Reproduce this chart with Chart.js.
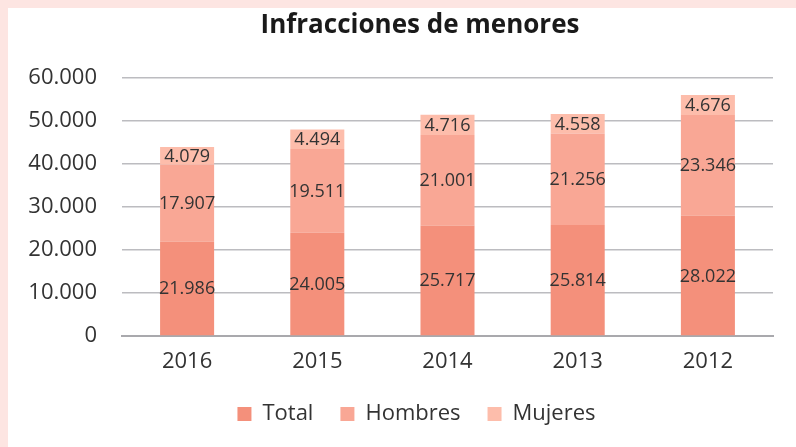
<!DOCTYPE html>
<html>
<head>
<meta charset="utf-8">
<script src="https://cdn.jsdelivr.net/npm/chart.js@4"></script>
<style>
  html, body { margin: 0; padding: 0; }
  body { width: 796px; height: 447px; background: #fde5e2; position: relative; overflow: hidden; }
  #wrap { position: absolute; left: 8px; top: 8px; width: 788px; height: 439px; background: #ffffff; }
</style>
</head>
<body>
<div id="wrap"><canvas id="chart"></canvas></div>
<script>
const years = ['2016', '2015', '2014', '2013', '2012'];
const total = [21986, 24005, 25717, 25814, 28022];
const hombres = [17907, 19511, 21001, 21256, 23346];
const mujeres = [4079, 4494, 4716, 4558, 4676];

const chartTitle = 'Infracciones de menores';
const FONT = '"Open Sans", "Noto Sans", sans-serif';

function fmt(v) {
    return String(v).replace(/\B(?=(\d{3})+(?!\d))/g, '.');
}

// draws the title and the numbers inside each segment
const labelPlugin = {
    id: 'segLabels',
    afterLayout(chart) {
        // the original legend sits a bit right of the canvas centre
        chart.legend.left += 26;
        chart.legend.right += 26;
    },
    afterDatasetsDraw(chart) {
        const ctx = chart.ctx;
        ctx.save();
        ctx.font = '18px ' + FONT;
        ctx.fillStyle = '#333333';
        ctx.textAlign = 'center';
        ctx.textBaseline = 'middle';
        chart.data.datasets.forEach((ds, i) => {
            const meta = chart.getDatasetMeta(i);
            meta.data.forEach((bar, j) => {
                const mid = (bar.y + bar.base) / 2;
                ctx.fillText(fmt(ds.data[j]), bar.x, mid + 1);
            });
        });
        ctx.font = 'bold 26px ' + FONT;
        ctx.fillStyle = '#1a1a1a';
        ctx.fillText(chartTitle, 412, 18);
        ctx.restore();
    }
};

const ctx = document.getElementById('chart').getContext('2d');
new Chart(ctx, {
    type: 'bar',
    data: {
        labels: years,
        datasets: [
            { label: 'Total', data: total, backgroundColor: '#f4907b' },
            { label: 'Hombres', data: hombres, backgroundColor: '#f9a795' },
            { label: 'Mujeres', data: mujeres, backgroundColor: '#fdbdab' }
        ]
    },
    options: {
        responsive: true,
        maintainAspectRatio: false,
        animation: false,
        devicePixelRatio: 1,
        categoryPercentage: 1,
        barPercentage: 0.415,
        layout: {
            padding: { left: 0, right: 23, top: 70, bottom: 12 }
        },
        scales: {
            x: {
                stacked: true,
                afterFit: function(scale) { scale.height = 40; },
                grid: { display: false, drawTicks: false },
                border: { display: true, color: '#a9a9ad', width: 2 },
                ticks: { color: '#333333', font: { family: FONT, size: 22 }, padding: 13 }
            },
            y: {
                stacked: true,
                min: 0,
                max: 60000,
                afterFit: function(scale) { scale.width = 114; },
                grid: { color: '#bcbcc0', lineWidth: 1.5, drawTicks: false },
                border: { display: false },
                ticks: {
                    stepSize: 10000,
                    color: '#333333',
                    padding: 25,
                    font: { family: FONT, size: 22 },
                    callback: function(value) { return fmt(value); }
                }
            }
        },
        plugins: {
            title: { display: false },
            tooltip: { enabled: false },
            legend: {
                position: 'bottom',
                labels: {
                    boxWidth: 14,
                    boxHeight: 14,
                    padding: 27,
                    color: '#333333',
                    font: { family: FONT, size: 22 }
                }
            }
        }
    },
    plugins: [labelPlugin]
});
</script>
</body>
</html>
